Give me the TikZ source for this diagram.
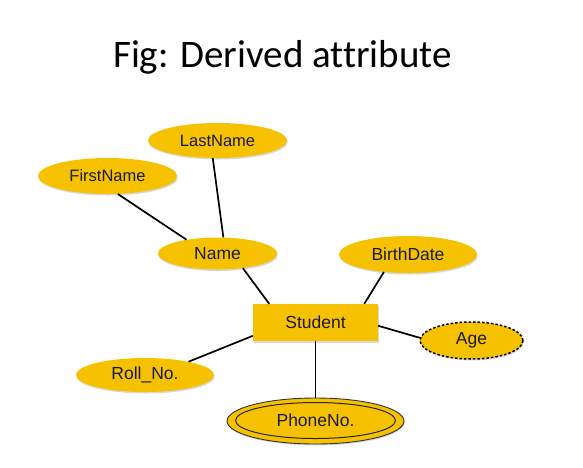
\documentclass[tikz,border=0pt]{standalone}
\usepackage{fontspec}
\setmainfont{Liberation Sans}
\newfontfamily\titlefont[Ligatures=NoCommon]{Carlito}
\usetikzlibrary{shapes.geometric,shadows}
\definecolor{attrfill}{RGB}{246,194,0}
\definecolor{attrtext}{RGB}{25,25,60}
\tikzset{
  x=1pt, y=-1pt,
  attr/.style={ellipse, fill=attrfill, inner sep=0pt, text=attrtext,
    font=\fontsize{17.5}{20}\selectfont,
    drop shadow={shadow xshift=0.8pt, shadow yshift=-1.5pt, opacity=0.3}},
  ent/.style={rectangle, fill=attrfill, inner sep=0pt, text=attrtext,
    font=\fontsize{17.5}{20}\selectfont,
    drop shadow={shadow xshift=0.8pt, shadow yshift=-1.5pt, opacity=0.3}},
  link/.style={draw=black, line width=1.7pt},
}
\begin{document}
\begin{tikzpicture}
\useasboundingbox[fill=white] (0,0) rectangle (583,467);
\node[font=\titlefont\fontsize{39}{44}\selectfont, anchor=base] (title) at (282.5,67) {Fig: Derived attribute};

\node[attr, minimum width=139pt, minimum height=35pt, font=\fontsize{16.5}{19}\selectfont] (last) at (217.5,140.5) {LastName};
\node[attr, minimum width=139pt, minimum height=36pt, font=\fontsize{16.5}{19}\selectfont] (first) at (107.5,176) {FirstName};
\node[attr, minimum width=119pt, minimum height=32pt] (name) at (217.5,253.5) {Name};
\node[attr, minimum width=138pt, minimum height=37pt] (birth) at (408,254.5) {BirthDate};
\node[ent, minimum width=125pt, minimum height=37pt] (student) at (315.5,322.5) {Student};
\node[attr, minimum width=103pt, minimum height=37pt, draw=black, line width=1.5pt, dash pattern=on 2.5pt off 2pt] (age) at (471.5,340.5) {Age};
\node[attr, minimum width=138pt, minimum height=34pt] (roll) at (145,375) {Roll\_No.};
\node[attr, minimum width=177pt, minimum height=46pt, draw=black!80, line width=0.9pt] (phone) at (315.5,421) {};
\node[ellipse, minimum width=160pt, minimum height=36pt, inner sep=0pt, draw=black!85, line width=1pt, text=attrtext, font=\fontsize{17.5}{20}\selectfont] (phonein) at (315.5,420.5) {PhoneNo.};

\draw[link] (first.-60) -- (name.156);
\draw[link] (last.-105) -- (name.70);
\draw[link] (name.-30) -- (student.158.5);
\draw[link] (birth.216) -- (student.21);
\draw[link] (student.-3) -- (age.177);
\draw[link] (student.192) -- (roll.17);
\draw[link] (student.south) -- (phone.north);
\end{tikzpicture}
\end{document}
